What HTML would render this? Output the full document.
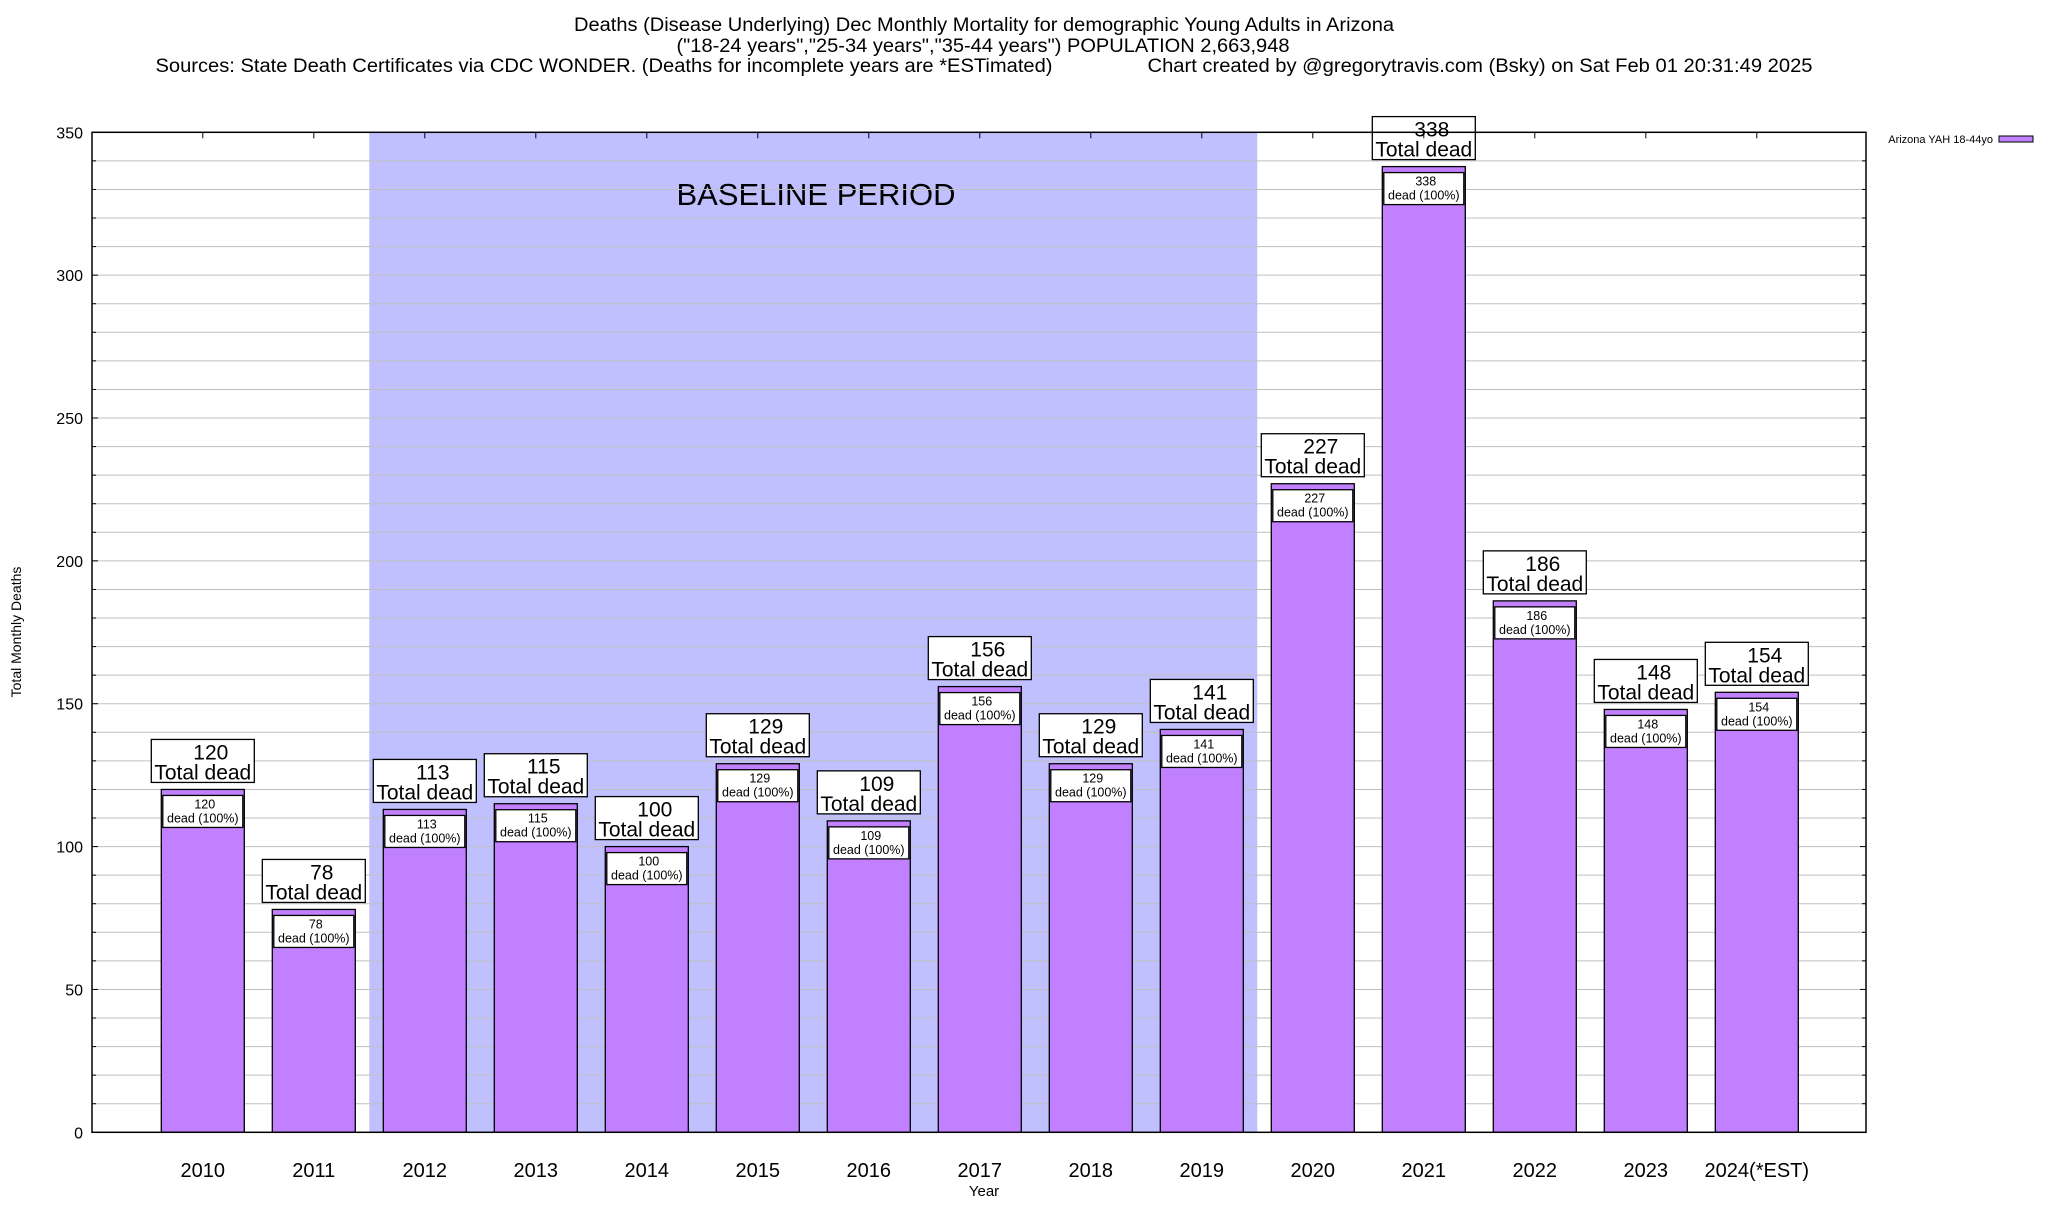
<!DOCTYPE html>
<html><head><meta charset="utf-8">
<style>
html,body{margin:0;padding:0;background:#fff;}
svg text{font-family:"Liberation Sans",Arial,sans-serif;fill:#000;}
</style></head>
<body>
<svg id="chart" width="2048" height="1200" viewBox="0 0 2048 1200" xmlns="http://www.w3.org/2000/svg">
<g font-size="19" text-anchor="middle">
<text x="984" y="31" textLength="820" lengthAdjust="spacingAndGlyphs">Deaths (Disease Underlying) Dec Monthly Mortality for demographic Young Adults in Arizona</text>
<text x="983" y="52" textLength="613" lengthAdjust="spacingAndGlyphs">("18-24 years","25-34 years","35-44 years") POPULATION 2,663,948</text>
<text x="604" y="72" textLength="897" lengthAdjust="spacingAndGlyphs">Sources: State Death Certificates via CDC WONDER. (Deaths for incomplete years are *ESTimated)</text>
<text x="1480" y="72" textLength="665" lengthAdjust="spacingAndGlyphs">Chart created by @gregorytravis.com (Bsky) on Sat Feb 01 20:31:49 2025</text>
</g>
<g id="plot"></g>
<text transform="translate(21,632) rotate(-90)" font-size="14" text-anchor="middle">Total Monthly Deaths</text>
<text x="984" y="1196" font-size="15" text-anchor="middle">Year</text>
<text x="1993" y="143" font-size="11" text-anchor="end">Arizona YAH 18-44yo</text>
<rect x="1999" y="136" width="34" height="6" fill="#c080ff" stroke="#000" stroke-width="1"/>
</svg>
<script>
const categories=["2010","2011","2012","2013","2014","2015","2016","2017","2018","2019","2020","2021","2022","2023","2024(*EST)"];
const values=[120,78,113,115,100,129,109,156,129,141,227,338,186,148,154];
const yTicks=[0,50,100,150,200,250,300,350];
const baselineStart=2, baselineEnd=9;

const NS="http://www.w3.org/2000/svg";
const L=92,R=1866,T=132.3,B=1132.3,yMax=350;
const pitch=111, firstCenter=202.8, barW=83;
function yS(v){return B-(v/yMax)*(B-T);}
function xS(i){return firstCenter+i*pitch;}
const g=document.getElementById('plot');
function mk(tag,attrs,parent){const e=document.createElementNS(NS,tag);for(const k in attrs)e.setAttribute(k,attrs[k]);(parent||g).appendChild(e);return e;}

const sh=mk('rect',{x:xS(baselineStart)-pitch/2,y:T,width:(baselineEnd-baselineStart+1)*pitch,height:B-T,fill:'#c0c0ff'});


const bt=mk('text',{x:816,y:205,'font-size':31,'text-anchor':'middle'});
bt.textContent='BASELINE PERIOD';



for(let v=10;v<yMax;v+=10){
  const gl=mk('line',{x1:L,x2:R,y1:yS(v),y2:yS(v),stroke:'#c0c0c0','stroke-width':1});
  
  
  const major=v%50===0;
  mk('line',{x1:L,x2:L+(major?6:4),y1:yS(v),y2:yS(v),stroke:'#000','stroke-width':1});
  mk('line',{x1:R,x2:R-(major?6:4),y1:yS(v),y2:yS(v),stroke:'#000','stroke-width':1});
}
yTicks.forEach(v=>{
  const t=mk('text',{x:83,y:yS(v)+6,'font-size':16,'text-anchor':'end'});
  t.textContent=v;
  
  
});

categories.forEach((c,i)=>{
  const cx=xS(i), v=values[i], top=yS(v);
  const bar=mk('rect',{x:cx-barW/2,y:top,width:barW,height:B-top,fill:'#c080ff',stroke:'#000','stroke-width':1.3});
  
  
  const ib=mk('rect',{x:cx-barW/2+1.5,y:top+6,width:barW-3,height:32,fill:'#fff',stroke:'#000','stroke-width':1.3});
  
  
  const t1=mk('text',{x:cx+2,y:top+19,'font-size':12.5,'text-anchor':'middle'});t1.textContent=v;
  
  
  const t2=mk('text',{x:cx,y:top+33,'font-size':12.5,'text-anchor':'middle'});t2.textContent='dead (100%)';
  
  
  const ob=mk('rect',{x:cx-51.5,y:top-50,width:103,height:43,fill:'#fff',stroke:'#000','stroke-width':1.3});
  
  
  const o1=mk('text',{x:cx+8,y:top-30,'font-size':21,'text-anchor':'middle'});o1.textContent=v;
  
  
  const o2=mk('text',{x:cx,y:top-10,'font-size':21,'text-anchor':'middle'});o2.textContent='Total dead';
  
  
  mk('line',{x1:cx,x2:cx,y1:T,y2:T+6,stroke:'#000','stroke-width':1});
  const xl=mk('text',{x:cx,y:1177,'font-size':20,'text-anchor':'middle'});xl.textContent=c;
  
  
});
const fr=mk('rect',{x:L,y:T,width:R-L,height:B-T,fill:'none',stroke:'#000','stroke-width':1.5});


</script>
</body></html>
